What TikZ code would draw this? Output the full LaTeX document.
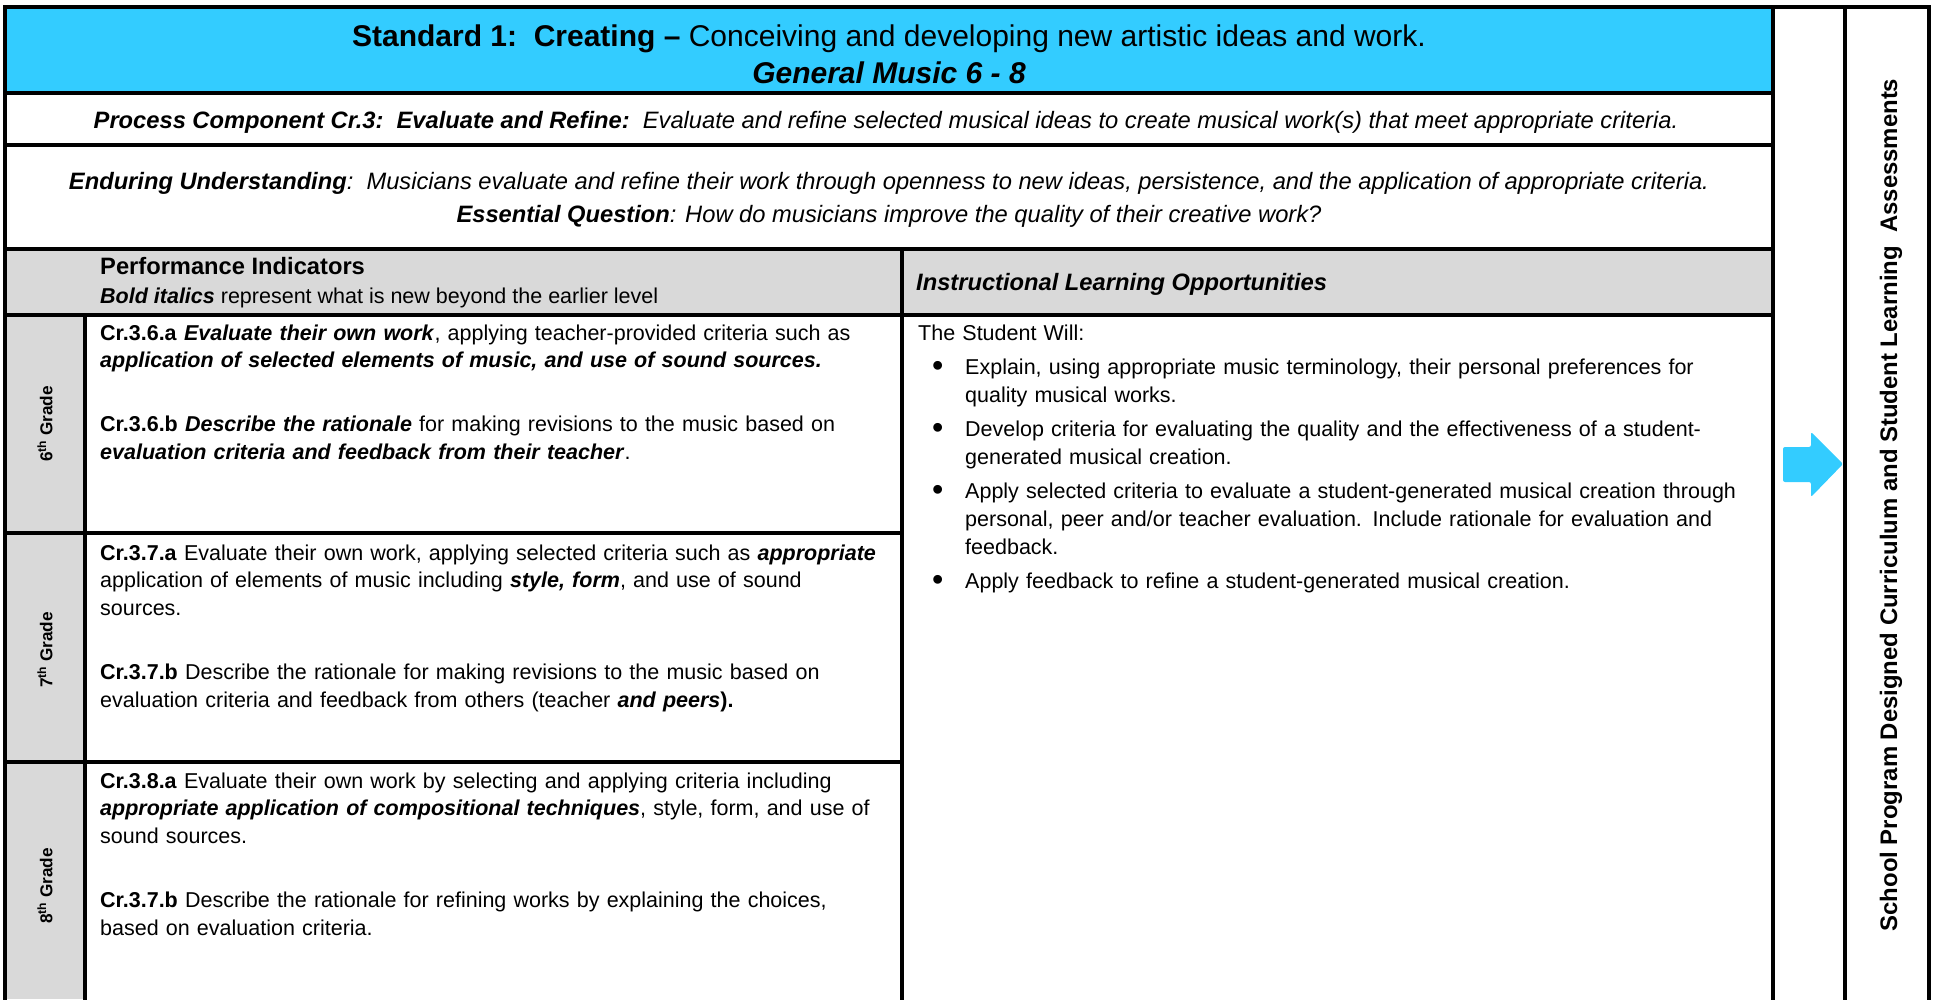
\documentclass[tikz,border=0pt]{standalone}
\usepackage{fontspec}
\setmainfont{Liberation Sans}
\usetikzlibrary{positioning}
\definecolor{hdrblue}{HTML}{33CCFF}
\definecolor{hdrgray}{HTML}{D9D9D9}
\newcommand{\bi}[1]{\textbf{\textit{#1}}}
\newcommand{\bodysize}{\fontsize{21.5}{27.7}\selectfont}
\newcommand{\ilosize}{\fontsize{21.5}{28}\selectfont}
\newcommand{\subsize}{\fontsize{23.7}{32}\selectfont}
\newcommand{\firststrut}{\rule{0pt}{20pt}}
\newcommand{\gap}{\par\vspace{36pt}}
\newcommand{\ilobul}{\par\vspace{6pt}\noindent\hangindent=47pt\hangafter=1\makebox[47pt][l]{\hspace{14pt}\raisebox{-0.12em}{\scalebox{1.5}{\textbullet}}}}

\begin{document}
\begin{tikzpicture}[x=1pt,y=-1pt,
  grid/.style={line width=3.2pt,line cap=rect},
  celltext/.style={anchor=north west,inner sep=0pt,text width=860pt,align=left,font=\bodysize},
  grade/.style={rotate=90,inner sep=0pt,font=\bfseries\fontsize{17.2}{20}\selectfont}]
\useasboundingbox (0,0) rectangle (1933,999);

% fills
\fill[hdrblue] (5,7) rectangle (1773,93);
\fill[hdrgray] (5,249) rectangle (1773,315);
\fill[hdrgray] (5,315) rectangle (85,999);

% grid
\draw[grid] (5,999)--(5,7)--(1929,7)--(1929,999);
\draw[grid] (1773,7)--(1773,999);
\draw[grid] (1845,7)--(1845,999);
\draw[grid] (5,93)--(1773,93);
\draw[grid] (5,145)--(1773,145);
\draw[grid] (5,249)--(1773,249);
\draw[grid] (5,315)--(1773,315);
\draw[grid] (5,533)--(902,533);
\draw[grid] (5,762)--(902,762);
\draw[grid] (85,315)--(85,999);
\draw[grid] (902,249)--(902,999);

% title rows
\node[anchor=base,inner sep=0pt,font=\fontsize{30}{36}\selectfont] (H1) at (889,46)
  {\textbf{Standard 1:\ \ Creating –} Conceiving and developing new artistic ideas and work.};
\node[anchor=base,inner sep=0pt,font=\fontsize{30}{36}\selectfont] (H2) at (889,83)
  {\bi{General Music 6 - 8}};
\node[anchor=base,inner sep=0pt,font=\subsize] (P) at (886,128)
  {\bi{Process Component Cr.3:\ \ Evaluate and Refine:}\ \ \textit{Evaluate and refine selected musical ideas to create musical work(s) that meet appropriate criteria.}};
\node[anchor=base,inner sep=0pt,font=\subsize] (E1) at (889,189)
  {\bi{Enduring Understanding}\textit{:\ \ Musicians evaluate and refine their work through openness to new ideas, persistence, and the application of appropriate criteria.}};
\node[anchor=base,inner sep=0pt,font=\subsize] (E2) at (889,222)
  {\bi{Essential Question}\textit{: How do musicians improve the quality of their creative work?}};

% column heads
\node[anchor=base west,inner sep=0pt,font=\subsize\bfseries] (PI) at (100,274) {Performance Indicators};
\node[anchor=base west,inner sep=0pt,font=\bodysize] (PInote) at (100,303)
  {\bi{Bold italics} represent what is new beyond the earlier level};
\node[anchor=base west,inner sep=0pt,font=\subsize] (ILO) at (916,290) {\bi{Instructional Learning Opportunities}};

% grades
\node[grade] (G6) at (45,424) {6\textsuperscript{th} Grade};
\node[grade] (G7) at (45,650) {7\textsuperscript{th} Grade};
\node[grade] (G8) at (45,886) {8\textsuperscript{th} Grade};

% performance indicators
\node[celltext] (R6) at (100,320) {\firststrut\textbf{Cr.3.6.a} \bi{Evaluate their own work}, applying teacher-provided criteria such as\newline
\bi{application of selected elements of music, and use of sound sources.}\gap
\textbf{Cr.3.6.b} \bi{Describe the rationale} for making revisions to the music based on\newline
\bi{evaluation criteria and feedback from their teacher}.};
\node[celltext] (R7) at (100,540) {\firststrut\textbf{Cr.3.7.a} Evaluate their own work, applying selected criteria such as \bi{appropriate}\newline
application of elements of music including \bi{style, form}, and use of sound\newline
sources.\gap
\textbf{Cr.3.7.b} Describe the rationale for making revisions to the music based on\newline
evaluation criteria and feedback from others (teacher \bi{and peers}\textbf{).}};
\node[celltext] (R8) at (100,768) {\firststrut\textbf{Cr.3.8.a} Evaluate their own work by selecting and applying criteria including\newline
\bi{appropriate application of compositional techniques}, style, form, and use of\newline
sound sources.\gap
\textbf{Cr.3.7.b} Describe the rationale for refining works by explaining the choices,\newline
based on evaluation criteria.};

% learning opportunities
\node[celltext,font=\ilosize] (L) at (918,320) {\firststrut The Student Will:
\ilobul Explain, using appropriate music terminology, their personal preferences for\newline
quality musical works.
\ilobul Develop criteria for evaluating the quality and the effectiveness of a student-\newline
generated musical creation.
\ilobul Apply selected criteria to evaluate a student-generated musical creation through\newline
personal, peer and/or teacher evaluation. Include rationale for evaluation and\newline
feedback.
\ilobul Apply feedback to refine a student-generated musical creation.};

% arrow and side label
\fill[hdrblue,rounded corners=2pt] (1783,447)--(1811,447)--(1811,432)--(1843,464)--(1811,497)--(1811,482)--(1783,482)--cycle;
\node[rotate=90,inner sep=0pt,font=\bfseries\fontsize{23.9}{28}\selectfont] (S) at (1891,505)
  {School Program Designed Curriculum and Student Learning\ \ Assessments};
\end{tikzpicture}
\end{document}
